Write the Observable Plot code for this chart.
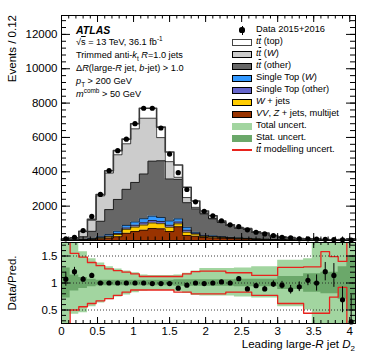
<!DOCTYPE html>
<html><head><meta charset="utf-8">
<script src="https://cdn.jsdelivr.net/npm/d3@7"></script>
<script src="https://cdn.jsdelivr.net/npm/@observablehq/plot@0.6"></script>
<style>
html,body{margin:0;padding:0;background:#fff;}
#wrap{position:relative;width:374px;height:359px;overflow:hidden;font-family:"Liberation Sans",Arial,Helvetica,sans-serif;color:#000;}
#wrap svg{position:absolute;left:0;}
.t{position:absolute;white-space:nowrap;}
.t sub,.t sup{font-size:70%;line-height:0;}
.ov{text-decoration:overline;}
.sw{position:absolute;width:20px;height:7px;box-sizing:border-box;}
</style></head><body><div id="wrap"></div>
<script>
// ---- data (34 bins of width 0.12 in D2) ----
const binWidth = 0.12;
const nBins = 34;
const dataCounts = [100,190,575,1400,2680,4065,5230,5900,6800,7700,7700,6550,5030,3950,2970,2250,1700,1440,1150,910,810,620,480,385,290,190,155,100,100,80,70,50,40,28];
const vvZjets        = [8,12,25,50,90,140,220,420,520,600,700,680,520,800,290,250,170,150,130,110,90,80,60,50,35,25,20,13,11,10,7,5,7,12];
const wJets          = [4,6,12,25,50,80,130,230,260,300,320,300,250,170,190,120,70,60,50,40,35,30,22,18,12,8,7,5,4,3,3,2,2,4];
const singleTopOther = [2,3,6,12,25,40,60,80,110,130,140,130,120,110,120,50,30,25,20,15,12,10,8,7,5,3,3,2,2,1,1,1,1,2];
const singleTopW     = [3,5,12,28,55,90,130,150,190,240,260,230,250,180,170,60,40,35,30,25,20,18,12,10,8,5,5,3,3,2,2,1,2,3];
const ttOther        = [38,60,160,420,900,1450,1850,2100,2300,2600,3200,3300,2440,2300,1430,1360,1240,990,830,680,560,520,370,320,215,145,128,78,67,57,40,31,40,70];
const ttW            = [35,66,300,650,1480,2125,2600,2650,3120,3250,2500,1350,1010,120,300,90,50,40,20,10,10,10,8,5,5,4,4,3,3,2,2,1,2,3];
const ttTop          = [5,8,25,45,80,140,240,270,300,580,580,610,560,720,600,370,120,140,50,30,23,32,25,20,15,10,8,6,5,5,3,3,4,6];
// ratio panel
const ratioVals = [1.07,1.21,1.07,1.14,1.0,1.0,1.0,1.0,1.0,1.0,0.99,0.99,0.99,0.905,0.96,1.0,0.99,1.0,1.02,1.0,1.08,0.89,0.95,0.89,0.98,0.96,0.875,0.93,1.05,1.0,1.21,1.14,0.69,0.28];
const ratioErrLo = [0.13,0.08,0.05,0.04,0.02,0.02,0.015,0.015,0.015,0.015,0.015,0.015,0.015,0.02,0.02,0.02,0.025,0.03,0.03,0.035,0.035,0.04,0.045,0.05,0.06,0.07,0.08,0.09,0.1,0.15,0.17,0.22,0.24,0.5];
const ratioErrHi = [0.13,0.08,0.05,0.04,0.02,0.02,0.015,0.015,0.015,0.015,0.015,0.015,0.015,0.02,0.02,0.02,0.025,0.03,0.03,0.035,0.035,0.04,0.045,0.05,0.06,0.07,0.08,0.09,0.1,0.15,0.17,0.22,0.24,0.5];
const totUp  = [1.8,1.8,1.58,1.45,1.37,1.3,1.26,1.22,1.19,1.15,1.14,1.14,1.14,1.15,1.18,1.22,1.27,1.27,1.27,1.27,1.28,1.28,1.3,1.3,1.3,1.42,1.42,1.42,1.45,1.8,1.8,1.8,1.8,1.8];
const totDn  = [0.2,0.42,0.45,0.56,0.63,0.69,0.74,0.78,0.82,0.85,0.86,0.86,0.86,0.84,0.81,0.77,0.76,0.76,0.76,0.76,0.74,0.74,0.72,0.72,0.72,0.56,0.56,0.56,0.5,0.2,0.2,0.2,0.2,0.2];
const statUp = [1.28,1.15,1.1,1.07,1.05,1.05,1.05,1.05,1.05,1.05,1.05,1.05,1.05,1.06,1.06,1.06,1.06,1.06,1.06,1.06,1.07,1.07,1.07,1.07,1.07,1.12,1.12,1.12,1.17,1.17,1.2,1.2,1.3,1.5];
const statDn = [0.72,0.85,0.9,0.93,0.95,0.95,0.95,0.95,0.95,0.95,0.95,0.95,0.95,0.94,0.94,0.94,0.94,0.94,0.94,0.94,0.93,0.93,0.93,0.93,0.93,0.88,0.88,0.88,0.83,0.83,0.8,0.8,0.7,0.5];
const modUp  = [1.9,1.55,1.48,1.38,1.32,1.26,1.23,1.2,1.17,1.12,1.12,1.12,1.12,1.12,1.17,1.21,1.22,1.22,1.22,1.19,1.19,1.19,1.14,1.14,1.14,1.29,1.29,1.29,1.3,1.3,1.58,1.49,1.4,1.9];
const modDn  = [0.1,0.5,0.56,0.62,0.67,0.71,0.77,0.83,0.87,0.87,0.87,0.87,0.87,0.83,0.83,0.8,0.8,0.8,0.8,0.83,0.83,0.83,0.77,0.77,0.77,0.62,0.62,0.62,0.44,0.44,0.44,0.74,0.92,0.1];
// axis ticks / labels
const mainYLabels = [2000,4000,6000,8000,10000,12000];
const ratioYLabels = [0.5,1,1.5];
const xLabels = [0,0.5,1,1.5,2,2.5,3,3.5,4];
const xDomain = [0, 4.08];
const mainYDomain = [0, 13100];
const ratioYDomain = [0.25, 1.75];

const font = '"Liberation Sans",Arial,Helvetica,sans-serif';
const wrap = document.getElementById("wrap");
const bins = d3.range(nBins).map(i => ({i, x1: i*binWidth, x2: (i+1)*binWidth, xc: (i+0.5)*binWidth}));
function stepPts(lo, hi) {
  const p = bins.map((b,i) => ({x: b.x1, y1: lo[i], y2: hi[i]}));
  p.push({x: bins[nBins-1].x2, y1: lo[nBins-1], y2: hi[nBins-1]});
  return p;
}
function tickRules(ys, xs, plotW, plotH, yMaj, yMin, xMaj, xMin, yMinorVals, xMinorVals, xTop) {
  const m = [];
  m.push(Plot.ruleY(ys, {insetRight: plotW - yMaj, stroke: "#000"}));
  m.push(Plot.ruleY(ys, {insetLeft: plotW - yMaj, stroke: "#000"}));
  m.push(Plot.ruleY(yMinorVals, {insetRight: plotW - yMin, stroke: "#000"}));
  m.push(Plot.ruleY(yMinorVals, {insetLeft: plotW - yMin, stroke: "#000"}));
  m.push(Plot.ruleX(xs, {insetTop: plotH - xMaj, stroke: "#000"}));
  m.push(Plot.ruleX(xMinorVals, {insetTop: plotH - xMin, stroke: "#000"}));
  if (xTop) {
    m.push(Plot.ruleX(xs, {insetBottom: plotH - xMaj, stroke: "#000"}));
    m.push(Plot.ruleX(xMinorVals, {insetBottom: plotH - xMin, stroke: "#000"}));
  }
  return m;
}
const xMinor = d3.range(0, 4.08, 0.1);

// ---- main panel ----
const comps = [
  {vals: vvZjets, fill: "#993300"},
  {vals: wJets, fill: "#ffcc00"},
  {vals: singleTopOther, fill: "#6666cc"},
  {vals: singleTopW, fill: "#3399ff"},
  {vals: ttOther, fill: "#666666"},
  {vals: ttW, fill: "#cccccc"},
  {vals: ttTop, fill: "#ffffff"}
];
let base = new Array(nBins).fill(0);
const areaMarks = [], lineMarks = [];
comps.forEach((c, k) => {
  const top = base.map((b, i) => b + c.vals[i]);
  const pts = stepPts(base, top);
  areaMarks.push(Plot.area(pts, {x1: "x", y1: "y1", y2: "y2", curve: "step-after", fill: c.fill}));
  if (k < comps.length - 1) lineMarks.push(Plot.line(pts, {x: "x", y: "y2", curve: "step-after", stroke: k === 4 ? "#222" : "#000", strokeWidth: k === 4 ? 1 : 0.7}));
  base = top;
});
const outline = [{x: 0, y2: 0}, ...stepPts(base, base), {x: xDomain[1], y2: 0}];
const mainW = 374 - 61 - 19, mainH = 225;
const main = Plot.plot({
  width: 374, height: 243, marginTop: 15, marginRight: 19, marginBottom: 3, marginLeft: 61,
  style: {background: "none", fontFamily: font, fontSize: "11.5px", color: "#000"},
  x: {domain: xDomain, axis: null},
  y: {domain: mainYDomain, axis: null},
  marks: [
    ...areaMarks, ...lineMarks,
    Plot.line(outline, {x: "x", y: "y2", curve: "step-after", stroke: "#3a3a3a", strokeWidth: 1.6}),
    Plot.dot(bins, {x: "xc", y: (d) => dataCounts[d.i], r: 2.6, fill: "#000", stroke: null}),
    ...tickRules(mainYLabels, xLabels, mainW, mainH, 9, 5, 7, 3.5, d3.range(0, 13000, 400), xMinor, true),
    Plot.axisY(mainYLabels, {tickSize: 0, tickPadding: 4, tickFormat: d => String(d), label: null, fontSize: 11.5}),
    Plot.frame({stroke: "#000", strokeWidth: 1})
  ]
});
main.style.top = "0px";
wrap.appendChild(main);

// ---- ratio panel ----
const ratioW = mainW, ratioH = 81;
const ratio = Plot.plot({
  width: 374, height: 121, marginTop: 4, marginRight: 19, marginBottom: 36, marginLeft: 61,
  style: {background: "none", fontFamily: font, fontSize: "11.5px", color: "#000"},
  x: {domain: xDomain, axis: null},
  y: {domain: ratioYDomain, axis: null},
  marks: [
    Plot.area(stepPts(totDn, totUp), {x1: "x", y1: "y1", y2: "y2", curve: "step-after", fill: "#a2d5a0", clip: true}),
    Plot.area(stepPts(statDn, statUp), {x1: "x", y1: "y1", y2: "y2", curve: "step-after", fill: "#6ba86a", clip: true}),
    Plot.line(stepPts(modUp, modUp), {x: "x", y: "y2", curve: "step-after", stroke: "#e8231d", strokeWidth: 1.3, clip: true}),
    Plot.line(stepPts(modDn, modDn), {x: "x", y: "y2", curve: "step-after", stroke: "#e8231d", strokeWidth: 1.3, clip: true}),
    Plot.ruleY(ratioYLabels, {stroke: "#222", strokeWidth: 0.9, strokeDasharray: "1,2"}),
    Plot.ruleX(bins, {x: "xc", y1: d => ratioVals[d.i] - ratioErrLo[d.i], y2: d => ratioVals[d.i] + ratioErrHi[d.i], stroke: "#000", strokeWidth: 1, clip: true}),
    Plot.dot(bins, {x: "xc", y: d => ratioVals[d.i], r: 2.6, fill: "#000", stroke: null}),
    ...tickRules(ratioYLabels, xLabels, ratioW, ratioH, 9, 5, 6, 3, d3.range(0.3, 1.75, 0.1), xMinor, true),
    Plot.axisY(ratioYLabels, {tickSize: 0, tickPadding: 4, tickFormat: d => String(d), label: null, fontSize: 11.5}),
    Plot.axisX(xLabels, {tickSize: 0, tickPadding: 3, tickFormat: d => String(d), label: null, fontSize: 11.5}),
    Plot.frame({stroke: "#000", strokeWidth: 1})
  ]
});
ratio.style.top = "238px";
wrap.appendChild(ratio);

// ---- texts ----
function txt(html, left, cy, size, extra) {
  const d = document.createElement("div");
  d.className = "t";
  d.innerHTML = html;
  d.style.fontSize = size + "px";
  d.style.lineHeight = size + "px";
  d.style.left = left + "px";
  d.style.top = (cy - 0.49*size) + "px";
  if (extra) Object.assign(d.style, extra);
  wrap.appendChild(d);
  return d;
}
txt("ATLAS", 76, 30, 10.5, {fontWeight: "bold", fontStyle: "italic"});
const annot = [
  "√<span class='ov'>s</span> = 13 TeV, 36.1 fb<sup>-1</sup>",
  "Trimmed anti-<i>k</i><sub>t</sub> <i>R</i>=1.0 jets",
  "Δ<i>R</i>(large-<i>R</i> jet, <i>b</i>-jet) &gt; 1.0",
  "<i>p</i><sub>T</sub> &gt; 200 GeV",
  "<i>m</i><sup>comb</sup> &gt; 50 GeV"
];
annot.forEach((h, k) => txt(h, 76, 43 + 13*k, 9.2));

const tt = "<i>t</i><span class='ov'><i>t</i></span>";
const legendItems = [
  {label: "Data 2015+2016", kind: "data"},
  {label: tt + " (top)", fill: "#ffffff", border: "#444"},
  {label: tt + " (<i>W</i>)", fill: "#cccccc", border: "#000"},
  {label: tt + " (other)", fill: "#666666", border: "#000"},
  {label: "Single Top (<i>W</i>)", fill: "#3399ff", border: "#000"},
  {label: "Single Top (other)", fill: "#6666cc", border: "#000"},
  {label: "<i>W</i> + jets", fill: "#ffcc00", border: "#000"},
  {label: "<i>VV</i>, <i>Z</i> + jets, multijet", fill: "#993300", border: "#000"},
  {label: "Total uncert.", fill: "#a2d5a0"},
  {label: "Stat. uncert.", fill: "#6ba86a"},
  {label: tt + " modelling uncert.", kind: "line"}
];
legendItems.forEach((it, k) => {
  const cy = 30 + 12*k;
  if (it.kind === "data") {
    const dot = document.createElement("div");
    Object.assign(dot.style, {position: "absolute", left: "239.4px", top: (cy - 2.6) + "px", width: "5.2px", height: "5.2px", borderRadius: "50%", background: "#000"});
    wrap.appendChild(dot);
    const bar = document.createElement("div");
    Object.assign(bar.style, {position: "absolute", left: "241.5px", top: (cy - 4.5) + "px", width: "1px", height: "9px", background: "#000"});
    wrap.appendChild(bar);
  } else if (it.kind === "line") {
    const ln = document.createElement("div");
    Object.assign(ln.style, {position: "absolute", left: "232px", top: (cy - 0.7) + "px", width: "20px", height: "1.4px", background: "#e8231d"});
    wrap.appendChild(ln);
  } else {
    const sw = document.createElement("div");
    sw.className = "sw";
    Object.assign(sw.style, {left: "232px", top: (cy - 3.5) + "px", background: it.fill, border: it.border ? ("1px solid " + it.border) : "none"});
    wrap.appendChild(sw);
  }
  txt(it.label, 256, cy, 9.3);
});

// axis titles
txt("Leading large-<i>R</i> jet <i>D</i><sub>2</sub>", 0, 345, 11.5, {left: "auto", right: "19px"});
txt("Events / 0.12", 0, 0, 11.5, {left: (12 - 6) + "px", top: "215px", width: "200px", textAlign: "right", lineHeight: "12px", transformOrigin: "0 0", transform: "rotate(-90deg)"});
txt("Data/Pred.", 0, 0, 11.5, {left: (12 - 6) + "px", top: "383px", width: "200px", textAlign: "center", lineHeight: "12px", transformOrigin: "0 0", transform: "rotate(-90deg)"});
</script></body></html>
